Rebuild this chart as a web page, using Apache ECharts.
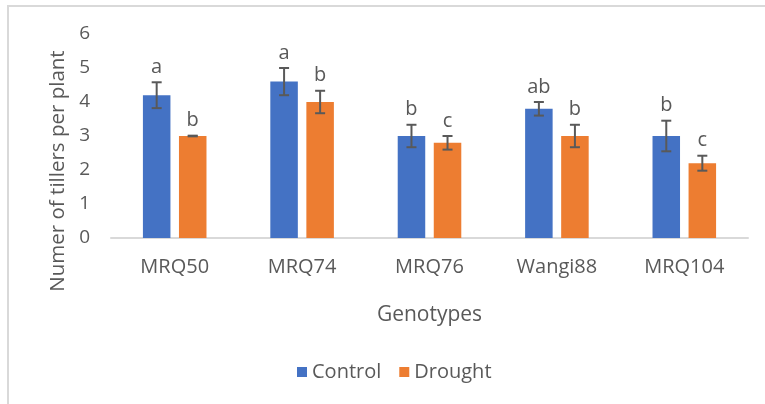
<!DOCTYPE html>
<html>
<head>
<meta charset="utf-8">
<script src="https://cdn.jsdelivr.net/npm/echarts@6/dist/echarts.min.js"></script>
<style>html,body{margin:0;padding:0;background:#fff;}#c{width:765px;height:404px;}</style>
</head>
<body>
<div id="c"></div>
<script>
var categories = ['MRQ50', 'MRQ74', 'MRQ76', 'Wangi88', 'MRQ104'];
var control = [4.2, 4.6, 3.0, 3.8, 3.0];
var controlErr = [0.38, 0.4, 0.33, 0.2, 0.45];
var drought = [3.0, 4.0, 2.8, 3.0, 2.2];
var droughtErr = [0.01, 0.33, 0.2, 0.33, 0.22];
var controlLetters = ['a', 'a', 'b', 'ab', 'b'];
var droughtLetters = ['b', 'b', 'c', 'b', 'c'];
var yTicks = [0, 1, 2, 3, 4, 5, 6];

var FONT = 'Open Sans';
var TXT = '#595959';
var BW = 0.216, GAP = 0.31;

function errSeries(vals, errs, letters, sign) {
  return {
    type: 'custom',
    z: 5,
    silent: true,
    data: vals.map(function (v, i) { return [i, v, errs[i]]; }),
    renderItem: function (params, api) {
      var i = params.dataIndex;
      var band = api.size([1, 0])[0];
      var bw = band * BW;
      var off = sign * bw * (1 + GAP) / 2;
      var v = api.value(1), e = api.value(2);
      var x = api.coord([i, 0])[0] + off;
      var yT = api.coord([i, v + e])[1];
      var yB = api.coord([i, v - e])[1];
      var cap = 5;
      var st = { stroke: '#595959', lineWidth: 2 };
      return {
        type: 'group',
        children: [
          { type: 'line', shape: { x1: x, y1: yT, x2: x, y2: yB }, style: st },
          { type: 'line', shape: { x1: x - cap, y1: yT, x2: x + cap, y2: yT }, style: st },
          { type: 'line', shape: { x1: x - cap, y1: yB, x2: x + cap, y2: yB }, style: st },
          { type: 'text', style: { text: letters[i], x: x, y: yT - 5, textAlign: 'center', textVerticalAlign: 'bottom', fill: TXT, font: '20px "' + FONT + '"' } }
        ]
      };
    }
  };
}

var chart = echarts.init(document.getElementById('c'));
chart.setOption({
  animation: false,
  backgroundColor: '#fff',
  textStyle: { fontFamily: FONT },
  graphic: [
    { type: 'rect', shape: { x: 8, y: 6, width: 800, height: 500 }, style: { fill: 'none', stroke: '#d9d9d9', lineWidth: 2 }, silent: true },
    { type: 'text', x: 58, y: 171, rotation: Math.PI / 2, style: { text: 'Numer of tillers per plant', textAlign: 'center', textVerticalAlign: 'middle', fill: TXT, font: '20.5px "' + FONT + '"' } }
  ],
  legend: {
    data: ['Control', 'Drought'],
    left: 292,
    top: 357,
    icon: 'rect',
    itemWidth: 10,
    itemHeight: 10,
    itemGap: 18,
    textStyle: { color: TXT, fontSize: 20, fontFamily: FONT }
  },
  grid: { left: 111, right: 17, top: 34, bottom: 166, containLabel: false },
  xAxis: {
    type: 'category',
    data: categories,
    name: 'Genotypes',
    nameLocation: 'middle',
    nameGap: 67,
    nameTextStyle: { color: TXT, fontSize: 21, fontFamily: FONT },
    axisLine: { lineStyle: { color: '#d9d9d9', width: 2 } },
    axisTick: { show: false },
    axisLabel: { color: TXT, fontSize: 20, margin: 19, fontFamily: FONT }
  },
  yAxis: {
    type: 'value',
    min: yTicks[0],
    max: yTicks[yTicks.length - 1],
    interval: 1,
    splitLine: { show: false },
    axisLine: { show: false },
    axisTick: { show: false },
    axisLabel: { color: TXT, fontSize: 19, margin: 21, fontFamily: FONT }
  },
  series: [
    { name: 'Control', type: 'bar', data: control, barWidth: (BW * 100) + '%', barGap: (GAP * 100) + '%', itemStyle: { color: '#4472C4' } },
    { name: 'Drought', type: 'bar', data: drought, barWidth: (BW * 100) + '%', itemStyle: { color: '#ED7D31' } },
    errSeries(control, controlErr, controlLetters, -1),
    errSeries(drought, droughtErr, droughtLetters, 1)
  ]
});
</script>
</body>
</html>
